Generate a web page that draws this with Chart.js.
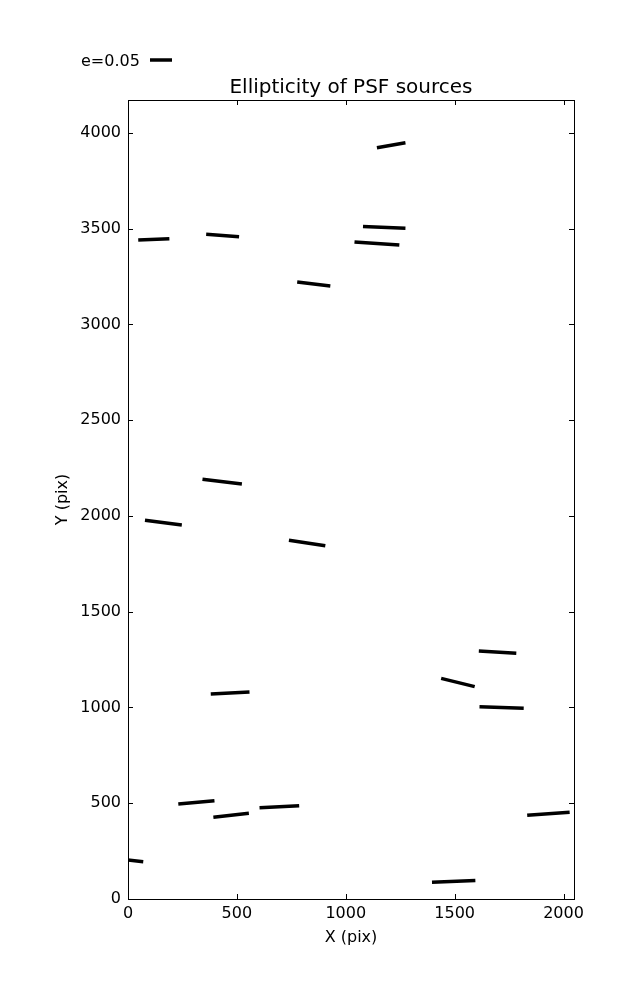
<!DOCTYPE html>
<html lang="en">
<head>
  <meta charset="UTF-8">
  <title>Ellipticity of PSF sources</title>
  <style>
    body { margin: 0; background: #fff; }
    #wrap { width: 637px; height: 1000px; }
  </style>
</head>
<body>
  <div id="wrap">
    <canvas id="myChart" width="637" height="1000"></canvas>
  </div>
  <script src="https://cdn.jsdelivr.net/npm/chart.js@4/dist/chart.umd.min.js"></script>
  <script>
    // whisker end points, in pixel units of the detector
    const startX = [1143, 47, 359, 1079, 1040, 777, 342, 78, 739, 1611, 1438, 1614, 380, 231, 392, 604, -10, 1396, 1833];
    const startY = [3923, 3441, 3471, 3511, 3431, 3222, 2192, 1978, 1873, 1295, 1152, 1004, 1070, 496, 427, 477, 205, 87, 437];
    const endX = [1274, 190, 510, 1274, 1246, 929, 523, 247, 906, 1783, 1592, 1817, 558, 397, 555, 786, 70, 1595, 2028];
    const endY = [3949, 3448, 3458, 3502, 3415, 3201, 2167, 1953, 1845, 1283, 1109, 996, 1081, 513, 448, 487, 195, 96, 453];

    const xTicks = [0, 500, 1000, 1500, 2000];
    const yTicks = [0, 500, 1000, 1500, 2000, 2500, 3000, 3500, 4000];
    const xMax = 2048;
    const yMax = 4172;
    const legendLabel = 'e=0.05';

    const font = 'DejaVu Sans';

    const datasets = startX.map(function (x0, i) {
      return {
        data: [{ x: x0, y: startY[i] }, { x: endX[i], y: endY[i] }],
        borderColor: '#000',
        borderWidth: 3.5,
        borderCapStyle: 'butt',
        pointRadius: 0,
        showLine: true,
        clip: 0
      };
    });

    // matplotlib-ish frame: box around the plot, ticks pointing in on all sides, legend top left
    const frame = {
      id: 'frame',
      afterDraw(chart) {
        const ctx = chart.ctx, a = chart.chartArea;
        const xs = chart.scales.x, ys = chart.scales.y;
        ctx.save();
        ctx.strokeStyle = '#000';
        ctx.lineWidth = 1;
        ctx.strokeRect(a.left + 0.5, a.top + 0.5, a.right - a.left, a.bottom - a.top);
        ctx.beginPath();
        xTicks.forEach(function (v) {
          const p = Math.round(xs.getPixelForValue(v)) + 0.5;
          ctx.moveTo(p, a.bottom); ctx.lineTo(p, a.bottom - 5);
          ctx.moveTo(p, a.top); ctx.lineTo(p, a.top + 5);
        });
        yTicks.forEach(function (v) {
          const p = Math.round(ys.getPixelForValue(v)) + 0.5;
          ctx.moveTo(a.left, p); ctx.lineTo(a.left + 5, p);
          ctx.moveTo(a.right, p); ctx.lineTo(a.right - 5, p);
        });
        ctx.stroke();

        ctx.fillStyle = '#000';
        ctx.font = '16px "' + font + '"';
        ctx.textBaseline = 'alphabetic';
        ctx.fillText(legendLabel, 81, 66);
        ctx.lineWidth = 3.5;
        ctx.beginPath();
        ctx.moveTo(150, 60);
        ctx.lineTo(172, 60);
        ctx.stroke();
        ctx.restore();
      }
    };

    const plainLabel = function (v) { return String(v); };

    new Chart(document.getElementById('myChart'), {
      type: 'scatter',
      data: { datasets: datasets },
      options: {
        responsive: false,
        animation: false,
        layout: { padding: { left: 0, right: 63, top: 76, bottom: 0 } },
        plugins: {
          legend: { display: false },
          tooltip: { enabled: false },
          title: {
            display: true,
            text: 'Ellipticity of PSF sources',
            fullSize: false,
            color: '#000',
            font: { family: font, size: 20, weight: 'normal' },
            padding: { top: 0, bottom: 0 }
          }
        },
        scales: {
          x: {
            type: 'linear',
            min: 0,
            max: xMax,
            grid: { display: false, drawTicks: false },
            border: { display: false },
            afterBuildTicks: function (s) { s.ticks = xTicks.map(function (v) { return { value: v }; }); },
            afterFit: function (s) { s.height = 101; },
            ticks: { color: '#000', padding: 5, maxRotation: 0, callback: plainLabel, font: { family: font, size: 16 } },
            title: {
              display: true,
              text: 'X (pix)',
              color: '#000',
              font: { family: font, size: 16 },
              padding: { top: 0, bottom: 52.4 }
            }
          },
          y: {
            type: 'linear',
            min: 0,
            max: yMax,
            grid: { display: false, drawTicks: false },
            border: { display: false },
            afterBuildTicks: function (s) { s.ticks = yTicks.map(function (v) { return { value: v }; }); },
            afterFit: function (s) { s.width = 128; },
            ticks: { color: '#000', padding: 7, callback: plainLabel, font: { family: font, size: 16 } },
            title: {
              display: true,
              text: 'Y (pix)',
              color: '#000',
              font: { family: font, size: 16 },
              padding: { top: 53.4, bottom: 0 }
            }
          }
        }
      },
      plugins: [frame]
    });
  </script>
</body>
</html>
